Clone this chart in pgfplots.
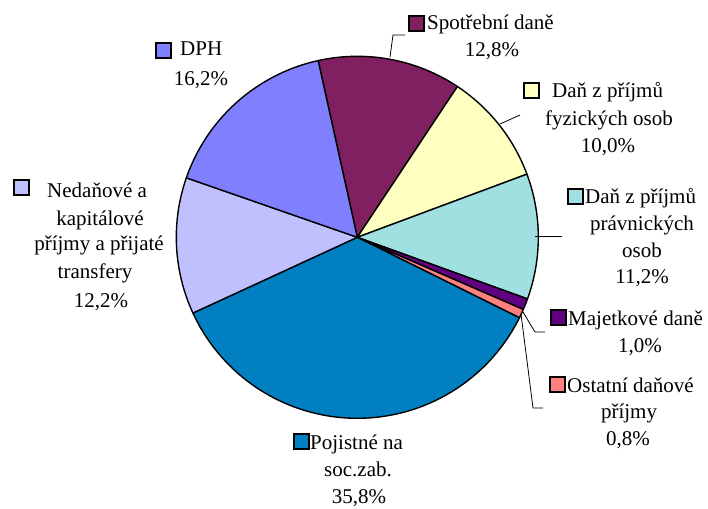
\documentclass[border=0pt]{standalone}
\usepackage{pgfplots}
\pgfplotsset{compat=1.18}
\usepackage{fontspec}
\setmainfont{Liberation Serif}
\definecolor{cdph}{HTML}{8080FF}
\definecolor{cspot}{HTML}{802060}
\definecolor{cfyz}{HTML}{FFFFC0}
\definecolor{cprav}{HTML}{A0E0E0}
\definecolor{cmaj}{HTML}{600080}
\definecolor{cost}{HTML}{FF8080}
\definecolor{cpoj}{HTML}{0080C0}
\definecolor{cned}{HTML}{C0C0FF}
\newcommand\lbl{\fontsize{21}{25}\selectfont}
\def\sStart{102.5}
\newcommand\slice[2]{%
  \pgfmathsetmacro\sEnd{\sStart-#1*3.6}%
  \edef\doslice{\noexpand\addplot[fill=#2, draw=black, line width=1.4pt, line join=round, domain=\sEnd:\sStart, samples=90] ({357.3+181*cos(x)}, {237.3-181*sin(x)}) -- (axis cs:357.3,237.3) -- cycle;}%
  \doslice
  \xdef\sStart{\sEnd}%
}
\newcommand\key[3]{\draw[fill=#3, line width=1.2pt] (axis cs:#1,#2) rectangle (axis cs:#1+15,#2+15);}
\newcommand\first[3]{\node[anchor=base west, inner sep=0pt, font=\lbl] at (axis cs:#1,#2) {#3};}
\newcommand\tline[3]{\node[anchor=base, inner sep=0pt, font=\lbl] at (axis cs:#1,#2) {#3};}
\begin{document}
\begin{tikzpicture}
\begin{axis}[hide axis, scale only axis, width=708pt, height=508pt,
  xmin=0, xmax=708, ymin=0, ymax=508, y dir=reverse, clip=false]
\path (rel axis cs:0,0) rectangle (rel axis cs:1,1);
% slices, clockwise from 102.5 degrees (percent values)
\slice{12.8}{cspot}
\slice{10.0}{cfyz}
\slice{11.2}{cprav}
\slice{1.0}{cmaj}
\slice{0.8}{cost}
\slice{35.8}{cpoj}
\slice{12.2}{cned}
\slice{16.2}{cdph}
% leader lines
\draw[line width=0.8pt] (axis cs:405,35) -- (axis cs:393,35) -- (axis cs:390,57);
\draw[line width=0.8pt] (axis cs:500,124) -- (axis cs:520,115);
\draw[line width=0.8pt] (axis cs:535,236) -- (axis cs:562,236);
\draw[line width=0.8pt] (axis cs:523,312) -- (axis cs:535,332) -- (axis cs:545,332);
\draw[line width=0.8pt] (axis cs:521,314) -- (axis cs:533,408) -- (axis cs:543,408);
% labels
\key{409}{16}{cspot}
\first{427}{30}{Spotřební daně}
\tline{492}{57}{12,8\%}
\key{156}{43}{cdph}
\first{180}{56}{DPH}
\tline{201}{85}{16,2\%}
\key{524}{83}{cfyz}
\first{552}{97}{Daň z příjmů}
\tline{609}{125}{fyzických osob}
\tline{608}{152}{10,0\%}
\key{568}{189}{cprav}
\first{585}{203}{Daň z příjmů}
\tline{642}{230}{právnických}
\tline{642}{257}{osob}
\tline{642}{283}{11,2\%}
\key{551}{310}{cmaj}
\first{568}{325}{Majetkové daně}
\tline{640}{352}{1,0\%}
\key{550}{377}{cost}
\first{567}{392}{Ostatní daňové}
\tline{629}{418}{příjmy}
\tline{628}{445}{0,8\%}
\key{294}{434}{cpoj}
\first{310}{449}{Pojistné na}
\tline{358}{476}{soc.zab.}
\tline{359}{503}{35,8\%}
\key{14}{180}{cned}
\first{47}{197}{Nedaňové a}
\tline{100}{225}{kapitálové}
\tline{99}{250}{příjmy a přijaté}
\tline{95}{278}{transfery}
\tline{101}{307}{12,2\%}
\end{axis}
\end{tikzpicture}
\end{document}
